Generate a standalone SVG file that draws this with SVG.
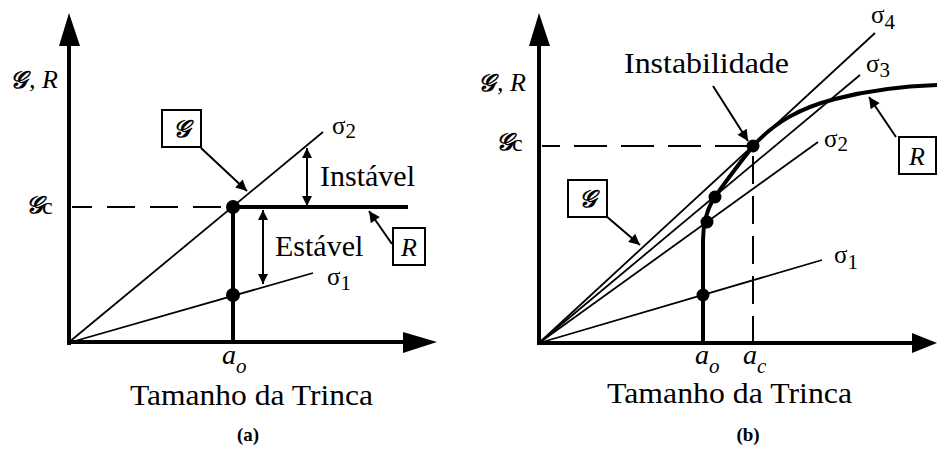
<svg xmlns="http://www.w3.org/2000/svg" width="937" height="450" viewBox="0 0 937 450">
<style>
.ax{stroke:#000;stroke-width:4;fill:none}
.thk{stroke:#000;stroke-width:4;fill:none;stroke-linecap:butt}
.thin{stroke:#000;stroke-width:1.8;fill:none}
.dash{stroke:#000;stroke-width:2;fill:none}
.ar{stroke:#000;stroke-width:2;fill:none}
.box{stroke:#000;stroke-width:2;fill:#fff}
.t{font-family:"Liberation Serif","Times New Roman",serif;fill:#000}
.big{font-size:30px}
.sig{font-size:25px}
.sub{font-size:21px}
.it{font-style:italic}
.scr{font-family:"DejaVu Serif","DejaVu Sans","Noto Sans",serif;font-style:italic;font-weight:bold;fill:#000}
.cap{font-family:"Liberation Serif","Times New Roman",serif;font-weight:bold;font-size:19px;fill:#000}
</style>
<defs>
<marker id="ah" viewBox="0 0 10 10" refX="10" refY="5" markerWidth="15" markerHeight="11" markerUnits="userSpaceOnUse" orient="auto-start-reverse">
<path d="M0,0 L10,5 L0,10 z" fill="#000"/>
</marker>
<marker id="ah2" viewBox="0 0 10 10" refX="10" refY="5" markerWidth="13" markerHeight="10" markerUnits="userSpaceOnUse" orient="auto-start-reverse">
<path d="M0,0 L10,5 L0,10 z" fill="#000"/>
</marker>
</defs>

<!-- Panel (a) -->
<g id="axes-a">
<path class="ax" d="M69,345 L69,40"/>
<polygon points="69,13 59,46 80,46" fill="#000"/>
<path class="ax" d="M67,342 L406,342"/>
<polygon points="437,342 403,332 403,353" fill="#000"/>
<text class="scr" x="10" y="88" font-size="24">𝒢</text>
<text class="t it" x="29" y="88" font-size="26">, R</text>
<text class="scr" x="26" y="213" font-size="24">𝒢</text>
<text class="t" x="42" y="214" font-size="24">c</text>
<text class="t it" x="222" y="364" font-size="28">a</text>
<text class="t it" x="236" y="373" font-size="21">o</text>
<text class="t big" x="130" y="405" textLength="243" lengthAdjust="spacingAndGlyphs">Tamanho da Trinca</text>
<text class="cap" x="248" y="441" text-anchor="middle">(a)</text>
</g>
<g id="sigma2-a">
<line class="thin" x1="68" y1="343" x2="323" y2="132"/>
<text class="t sig" x="332" y="134">σ<tspan class="sub" dy="4">2</tspan></text>
</g>
<g id="sigma1-a">
<line class="thin" x1="68" y1="343" x2="313" y2="273"/>
<text class="t sig" x="327" y="285">σ<tspan class="sub" dy="5">1</tspan></text>
</g>
<g id="R-a">
<line class="dash" x1="72" y1="207" x2="233" y2="207" stroke-dasharray="28 15" stroke-dashoffset="8"/>
<line class="thk" x1="233" y1="207" x2="408" y2="207"/>
<line class="thk" x1="233" y1="207" x2="233" y2="343"/>
<circle cx="233" cy="207" r="7"/>
<circle cx="233" cy="295" r="7"/>
</g>
<g id="instavel">
<text class="t big" x="320" y="186">Instável</text>
</g>
<g id="estavel">
<text class="t big" x="275" y="256">Estável</text>
</g>
<g id="Gbox-a">
<rect class="box" x="162" y="110" width="39" height="37"/>
<text class="scr" x="181.5" y="137" font-size="24" text-anchor="middle">𝒢</text>
</g>
<g id="Rbox-a">
<rect class="box" x="393" y="228" width="32" height="37"/>
<text class="t it" x="409" y="256" font-size="26" text-anchor="middle">R</text>
</g>

<!-- Panel (b) -->
<g id="axes-b">
<path class="ax" d="M539,345 L539,40"/>
<polygon points="539,13 529,46 550,46" fill="#000"/>
<path class="ax" d="M537,343 L915,343"/>
<polygon points="937,343 912,333 912,353" fill="#000"/>
<text class="scr" x="478" y="91" font-size="24">𝒢</text>
<text class="t it" x="497" y="91" font-size="26">, R</text>
<text class="scr" x="496" y="150" font-size="24">𝒢</text>
<text class="t" x="512" y="151" font-size="24">c</text>
<text class="t it" x="695" y="364" font-size="28">a</text>
<text class="t it" x="709" y="373" font-size="21">o</text>
<text class="t it" x="743" y="364" font-size="28">a</text>
<text class="t it" x="757" y="373" font-size="21">c</text>
<text class="t big" x="607" y="403" textLength="245" lengthAdjust="spacingAndGlyphs">Tamanho da Trinca</text>
<text class="cap" x="748" y="441" text-anchor="middle">(b)</text>
</g>
<g id="sigma4-b">
<line class="thin" x1="539" y1="343" x2="875" y2="33"/>
<text class="t sig" x="871" y="23">σ<tspan class="sub" dy="6">4</tspan></text>
</g>
<g id="sigma3-b">
<line class="thin" x1="539" y1="343" x2="860" y2="75"/>
<text class="t sig" x="866" y="72">σ<tspan class="sub" dy="5">3</tspan></text>
</g>
<g id="sigma2-b">
<line class="thin" x1="539" y1="343" x2="818" y2="142"/>
<text class="t sig" x="824" y="147">σ<tspan class="sub" dy="4">2</tspan></text>
</g>
<g id="sigma1-b">
<line class="thin" x1="539" y1="343" x2="822" y2="260"/>
<text class="t sig" x="834" y="263">σ<tspan class="sub" dy="6">1</tspan></text>
</g>
<g id="R-b">
<line class="dash" x1="542" y1="146" x2="753" y2="146" stroke-dasharray="33 14" stroke-dashoffset="15"/>
<line class="dash" x1="753" y1="152" x2="753" y2="343" stroke-dasharray="28 12" stroke-dashoffset="-4"/>
<path class="thk" d="M703,343 L703,240 C703,225 707,208 715,197 C725,182 740,163 753,146 C775,122 800,108 835,99 C870,90 905,86 940,85"/>
<circle cx="703" cy="295" r="6.5"/>
<circle cx="707" cy="222" r="6.5"/>
<circle cx="715" cy="197" r="6.5"/>
<circle cx="753" cy="146" r="6.5"/>
</g>
<g id="instabilidade">
<text class="t big" x="624" y="73" textLength="165" lengthAdjust="spacingAndGlyphs">Instabilidade</text>
</g>
<g id="Gbox-b">
<rect class="box" x="568" y="180" width="39" height="37"/>
<text class="scr" x="587.5" y="207" font-size="24" text-anchor="middle">𝒢</text>
</g>
<g id="Rbox-b">
<rect class="box" x="899" y="137" width="37" height="37"/>
<text class="t it" x="917" y="165" font-size="26" text-anchor="middle">R</text>
</g>

<g id="connectors">
<line class="ar" x1="201" y1="148" x2="247" y2="191" marker-end="url(#ah)"/>
<line class="ar" x1="392" y1="244" x2="369" y2="211" marker-end="url(#ah)"/>
<line class="ar" x1="307" y1="148" x2="307" y2="206" marker-start="url(#ah2)" marker-end="url(#ah2)"/>
<line class="ar" x1="263" y1="210" x2="263" y2="284" marker-start="url(#ah2)" marker-end="url(#ah2)"/>
<line class="ar" x1="713" y1="86" x2="748" y2="141" marker-end="url(#ah)"/>
<line class="ar" x1="606" y1="216" x2="640" y2="245" marker-end="url(#ah)"/>
<line class="ar" x1="896" y1="137" x2="869" y2="97" marker-end="url(#ah)"/>
</g>
</svg>
